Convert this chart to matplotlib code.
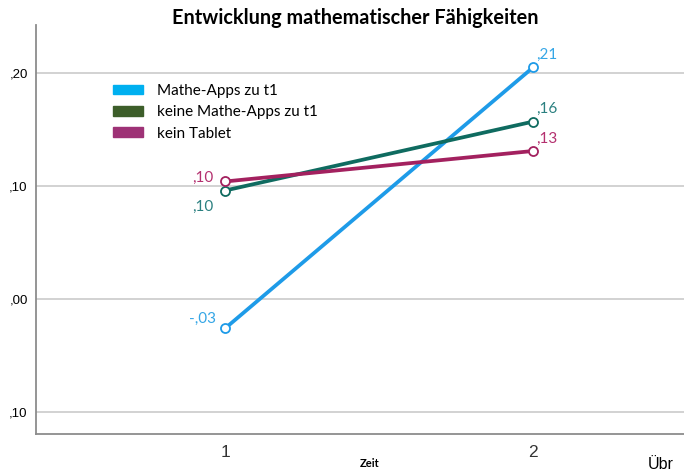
import numpy as np
import matplotlib.pyplot as plt
from matplotlib.patches import Patch

# Zeitpunkte und Mittelwerte
zeit = [1, 2]
mathe_apps = [-0.026, 0.205]
keine_apps = [0.096, 0.157]
kein_tablet = [0.104, 0.131]
labels_apps = ['-,03', ',21']
labels_keine = [',10', ',16']
labels_tablet = [',10', ',13']
yticks = [-0.1, 0.0, 0.1, 0.2]
ytick_labels = [',10', ',00', ',10', ',20']

plt.rcParams['font.family'] = ['Lato', 'DejaVu Sans']

fig = plt.figure(figsize=(6.84, 4.73), dpi=100)
ax = fig.add_axes([36 / 684, 1 - 434 / 473, 1 - 36 / 684, (434 - 25) / 473])

ax.set_xlim(0.386, 2.49)
ax.set_ylim(-0.1195, 0.2425)

for y in yticks:
    ax.axhline(y, color='#cfcfcf', lw=1.3, zorder=0)

series = [
    (mathe_apps, '#1e9be8', '#35a6e6', labels_apps),
    (keine_apps, '#0f6b60', '#2b8080', labels_keine),
    (kein_tablet, '#a3215f', '#b4306f', labels_tablet),
]
for vals, col, lcol, labs in series:
    ax.plot(zeit, vals, color=col, lw=2.7, marker='o', ms=6.5,
            mfc='white', mec=col, mew=1.3, solid_capstyle='round', zorder=3)

# Datenbeschriftungen
fs = 11
ax.annotate(labels_apps[0], (zeit[0], mathe_apps[0]), xytext=(-26, 4), textcoords='offset points',
            color='#35a6e6', fontsize=fs)
ax.annotate(labels_apps[1], (zeit[1], mathe_apps[1]), xytext=(2, 6), textcoords='offset points',
            color='#35a6e6', fontsize=fs)
ax.annotate(labels_keine[0], (zeit[0], keine_apps[0]), xytext=(-24, -15), textcoords='offset points',
            color='#2b8080', fontsize=fs)
ax.annotate(labels_keine[1], (zeit[1], keine_apps[1]), xytext=(2, 6), textcoords='offset points',
            color='#2b8080', fontsize=fs)
ax.annotate(labels_tablet[0], (zeit[0], kein_tablet[0]), xytext=(-24, 0), textcoords='offset points',
            color='#b4306f', fontsize=fs)
ax.annotate(labels_tablet[1], (zeit[1], kein_tablet[1]), xytext=(2, 6), textcoords='offset points',
            color='#b4306f', fontsize=fs)

ax.set_yticks(yticks)
ax.set_yticklabels(ytick_labels, fontsize=9.5, family='Liberation Sans')
ax.set_xticks(zeit)
ax.set_xticklabels(['1', '2'], fontsize=12.5, color='#333333', family='Liberation Sans')
ax.tick_params(axis='both', length=0, pad=6)
ax.tick_params(axis='x', pad=8)

for s in ['top', 'right']:
    ax.spines[s].set_visible(False)
ax.spines['left'].set_color('#8c8c8c')
ax.spines['bottom'].set_color('#8c8c8c')
ax.spines['left'].set_linewidth(1.3)
ax.spines['bottom'].set_linewidth(1.3)

fig.text(355 / 684, 1 - 18 / 473, 'Entwicklung mathematischer Fähigkeiten', ha='center', va='center',
         fontsize=14.3, fontweight='bold')
fig.text(370 / 684, 1 - 463 / 473, 'Zeit', ha='center', va='center', fontsize=8, fontweight='bold')
fig.text(648 / 684, 1 - 464 / 473, 'Übr', ha='left', va='center', fontsize=11.5, family='Liberation Sans')

handles = [Patch(color='#00b0f0'), Patch(color='#3d5e2a'), Patch(color='#9e3276')]
leg = fig.legend(handles, ['Mathe-Apps zu t1', 'keine Mathe-Apps zu t1', 'kein Tablet'],
                 loc='upper left', bbox_to_anchor=(113 / 684, 1 - 84 / 473), frameon=False,
                 fontsize=11, handlelength=1.95, handleheight=0.6, handletextpad=0.9,
                 labelspacing=0.48, borderaxespad=0, borderpad=0)

fig.savefig('out.png', dpi=100)
